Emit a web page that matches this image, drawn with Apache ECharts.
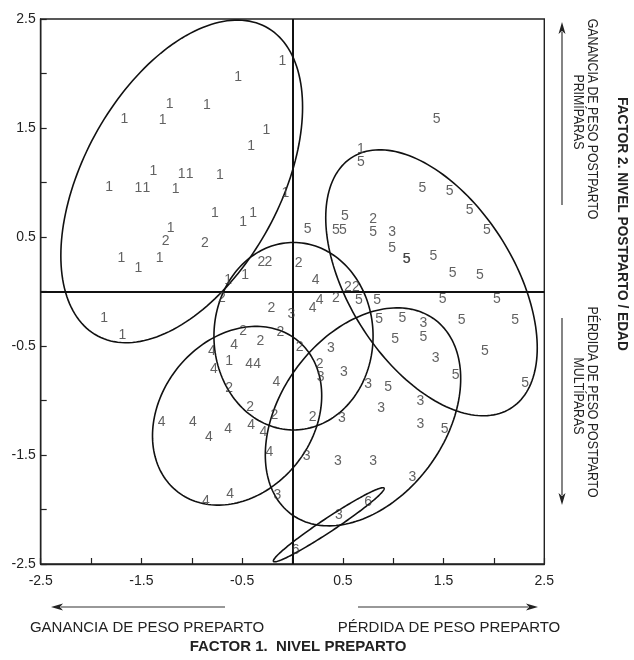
<!DOCTYPE html>
<html>
<head>
<meta charset="utf-8">
<script src="https://cdn.jsdelivr.net/npm/echarts@6/dist/echarts.min.js"></script>
<style>html,body{margin:0;padding:0;background:#fff}#c{width:634px;height:660px}</style>
</head>
<body>
<div id="c"></div>
<script>
// ---- data ----
var group1 = [[-0.10,2.11],[-0.54,1.97],[-1.22,1.72],[-0.85,1.71],[-1.67,1.58],[-1.29,1.57],[-0.26,1.48],[-0.41,1.33],[-1.38,1.10],[-1.10,1.08],[-1.02,1.08],[-0.72,1.07],[-1.82,0.96],[-1.53,0.95],[-1.45,0.95],[-1.16,0.94],[-0.07,0.90],[-0.77,0.72],[-0.49,0.64],[-0.39,0.72],[-1.21,0.58],[-1.70,0.31],[-1.32,0.31],[-1.53,0.21],[-0.47,0.15],[-0.64,0.10],[-1.87,-0.24],[-1.69,-0.40],[-0.63,-0.64],[0.68,1.31]];
var group2 = [[-1.26,0.46],[-0.87,0.44],[-0.31,0.27],[-0.24,0.27],[0.06,0.26],[-0.70,-0.06],[-0.21,-0.15],[0.55,0.04],[0.63,0.04],[0.43,-0.06],[-0.49,-0.36],[-0.12,-0.37],[-0.32,-0.46],[0.07,-0.51],[0.27,-0.67],[0.80,0.66],[-0.63,-0.89],[-0.42,-1.06],[-0.18,-1.13],[0.20,-1.15]];
var group3 = [[-0.01,-0.21],[0.99,0.54],[1.30,-0.29],[0.38,-0.52],[1.42,-0.61],[0.28,-0.79],[0.51,-0.74],[0.75,-0.85],[0.88,-1.07],[1.27,-1.01],[1.27,-1.22],[0.49,-1.16],[0.14,-1.51],[0.45,-1.56],[0.80,-1.56],[1.19,-1.70],[-0.15,-1.87],[0.46,-2.05]];
var group4 = [[-0.58,-0.49],[-0.80,-0.55],[-0.43,-0.67],[-0.35,-0.67],[-0.78,-0.71],[-0.16,-0.83],[0.23,0.10],[0.27,-0.08],[0.20,-0.15],[-1.30,-1.20],[-0.99,-1.20],[-0.64,-1.26],[-0.83,-1.34],[-0.41,-1.23],[-0.29,-1.29],[-0.23,-1.47],[-0.62,-1.86],[-0.86,-1.92]];
var group5 = [[1.43,1.58],[0.68,1.19],[1.29,0.95],[1.56,0.92],[1.76,0.75],[1.93,0.56],[0.52,0.69],[0.15,0.57],[0.43,0.56],[0.50,0.56],[0.80,0.54],[0.99,0.40],[1.13,0.30],[1.135,0.296],[1.40,0.32],[1.59,0.17],[1.86,0.15],[0.66,-0.08],[0.84,-0.08],[1.49,-0.07],[2.03,-0.07],[0.86,-0.25],[1.09,-0.24],[1.68,-0.26],[2.21,-0.26],[1.02,-0.44],[1.30,-0.42],[1.91,-0.55],[1.62,-0.77],[2.31,-0.84],[0.95,-0.88],[1.51,-1.26]];
var group6 = [[0.75,-1.93],[0.03,-2.37]];
var groupNames = ['1','2','3','4','5','6'];

// ellipses: centre, half width, half height (data units), phase (deg)
var ellipseCx = [-1.10, 0.01, 0.70, -0.55, 1.38, 0.36];
var ellipseCy = [1.01, -0.41, -1.15, -1.14, 0.08, -2.14];
var ellipseHalfW = [1.20, 0.79, 0.97, 0.84, 1.05, 0.55];
var ellipseHalfH = [1.48, 0.86, 1.00, 0.82, 1.22, 0.34];
var ellipsePhase = [62.6, 90, 69.5, 77, 119.3, 12.6];

var axisMin = -2.5, axisMax = 2.5, axisStep = 0.5;

// ---- chart ----
var chart = echarts.init(document.getElementById('c'), null, {renderer:'canvas'});
var FONT = '"Liberation Sans", Arial, Helvetica, sans-serif';
var groups = [group1, group2, group3, group4, group5, group6];

function tickFmt(v){
  var r = Math.round(Math.abs(v*2));
  return (r % 2 === 1) ? v.toFixed(1) : '';
}

var series = groups.map(function(g, i){
  return {
    type: 'scatter',
    data: g,
    symbol: 'circle',
    symbolSize: 1,
    itemStyle: {color: 'rgba(0,0,0,0)'},
    silent: true,
    label: {
      show: true, position: 'inside', formatter: groupNames[i],
      color: '#3a3a3a', fontSize: 14, fontFamily: FONT
    },
    z: 5
  };
});

var ellipseData = ellipseCx.map(function(c, i){ return [c, ellipseCy[i], i]; });
series.push({
  type: 'custom',
  data: ellipseData,
  silent: true,
  clip: false,
  encode: {x: 0, y: 1},
  renderItem: function(params, api){
    var i = api.value(2);
    var ph = ellipsePhase[i] * Math.PI / 180;
    var pts = [];
    for (var k = 0; k <= 180; k++){
      var t = 2 * Math.PI * k / 180;
      var x = ellipseCx[i] + ellipseHalfW[i] * Math.cos(t);
      var y = ellipseCy[i] + ellipseHalfH[i] * Math.cos(t - ph);
      pts.push(api.coord([x, y]));
    }
    return {type:'polygon', shape:{points: pts}, style:{fill:null, stroke:'#111', lineWidth:1.6}};
  },
  z: 4
});

// zero lines
series.push({
  type: 'line', data: [], silent: true,
  markLine: {
    silent: true, symbol: ['none','none'], label:{show:false},
    lineStyle: {color:'#111', width:2, type:'solid'},
    data: [{xAxis: 0}, {yAxis: 0}],
    animation: false
  }
});

function arrowGraphic(x1, y1, x2, y2){
  var dx = x2-x1, dy = y2-y1, L = Math.sqrt(dx*dx+dy*dy);
  var ux = dx/L, uy = dy/L, hl = 12, hw = 3.5;
  var bx = x2 - ux*hl, by = y2 - uy*hl;
  return [
    {type:'line', shape:{x1:x1,y1:y1,x2:bx+ux*2,y2:by+uy*2}, style:{stroke:'#333', lineWidth:1.2}},
    {type:'polygon', shape:{points:[[x2,y2],[bx - uy*hw, by + ux*hw],[bx + ux*3, by + uy*3],[bx + uy*hw, by - ux*hw]]}, style:{fill:'#222'}}
  ];
}

var rot = -Math.PI/2;
function vtext(x, y, s, size, bold, sx){
  return {type:'text', x:x, y:y, rotation: rot, scaleX: sx || 1,
    style:{text:s, fill:'#222', font: (bold?'bold ':'') + size + 'px ' + FONT, textAlign:'center', textVerticalAlign:'middle'}};
}
function htext(x, y, s, size, bold){
  return {type:'text', x:x, y:y,
    style:{text:s, fill:'#222', font: (bold?'bold ':'') + size + 'px ' + FONT, textAlign:'center', textVerticalAlign:'middle'}};
}

var graphics = [].concat(
  arrowGraphic(562, 205, 562, 22),
  arrowGraphic(562, 318, 562, 505),
  arrowGraphic(225, 607, 51, 607),
  arrowGraphic(358, 607, 538, 607),
  [
    vtext(592, 119, 'GANANCIA DE PESO POSTPARTO', 14, false, 0.88),
    vtext(578, 112, 'PRIMÍPARAS', 14, false, 0.88),
    vtext(622, 224, 'FACTOR 2. NIVEL POSTPARTO / EDAD', 14, true, 0.98),
    vtext(592, 402, 'PÉRDIDA DE PESO POSTPARTO', 14, false, 0.88),
    vtext(578, 396, 'MULTÍPARAS', 14, false, 0.88),
    htext(147, 628, 'GANANCIA DE PESO PREPARTO', 15, false),
    htext(449, 628, 'PÉRDIDA DE PESO PREPARTO', 15, false),
    htext(298, 647, 'FACTOR 1.  NIVEL PREPARTO', 15, true)
  ]
);

var option = {
  animation: false,
  backgroundColor: '#fff',
  grid: {left: 40.7, right: 89.7, top: 19, bottom: 96, show: true, borderColor: '#222', borderWidth: 1.4, backgroundColor:'transparent'},
  xAxis: {
    type: 'value', min: axisMin, max: axisMax, interval: axisStep,
    axisLine: {show: true, onZero: false, lineStyle: {color:'#222', width:1.4}},
    axisTick: {show: true, inside: true, length: 6, lineStyle:{color:'#222', width:1.2}},
    axisLabel: {formatter: tickFmt, color:'#222', fontSize: 14, fontFamily: FONT, margin: 10, showMinLabel:true, showMaxLabel:true},
    splitLine: {show: false}
  },
  yAxis: {
    type: 'value', min: axisMin, max: axisMax, interval: axisStep,
    axisLine: {show: true, onZero: false, lineStyle: {color:'#222', width:1.4}},
    axisTick: {show: true, inside: true, length: 6, lineStyle:{color:'#222', width:1.2}},
    axisLabel: {formatter: tickFmt, color:'#222', fontSize: 14, fontFamily: FONT, margin: 5, showMinLabel:true, showMaxLabel:true},
    splitLine: {show: false}
  },
  series: series,
  graphic: graphics
};
chart.setOption(option);
</script>
</body>
</html>
